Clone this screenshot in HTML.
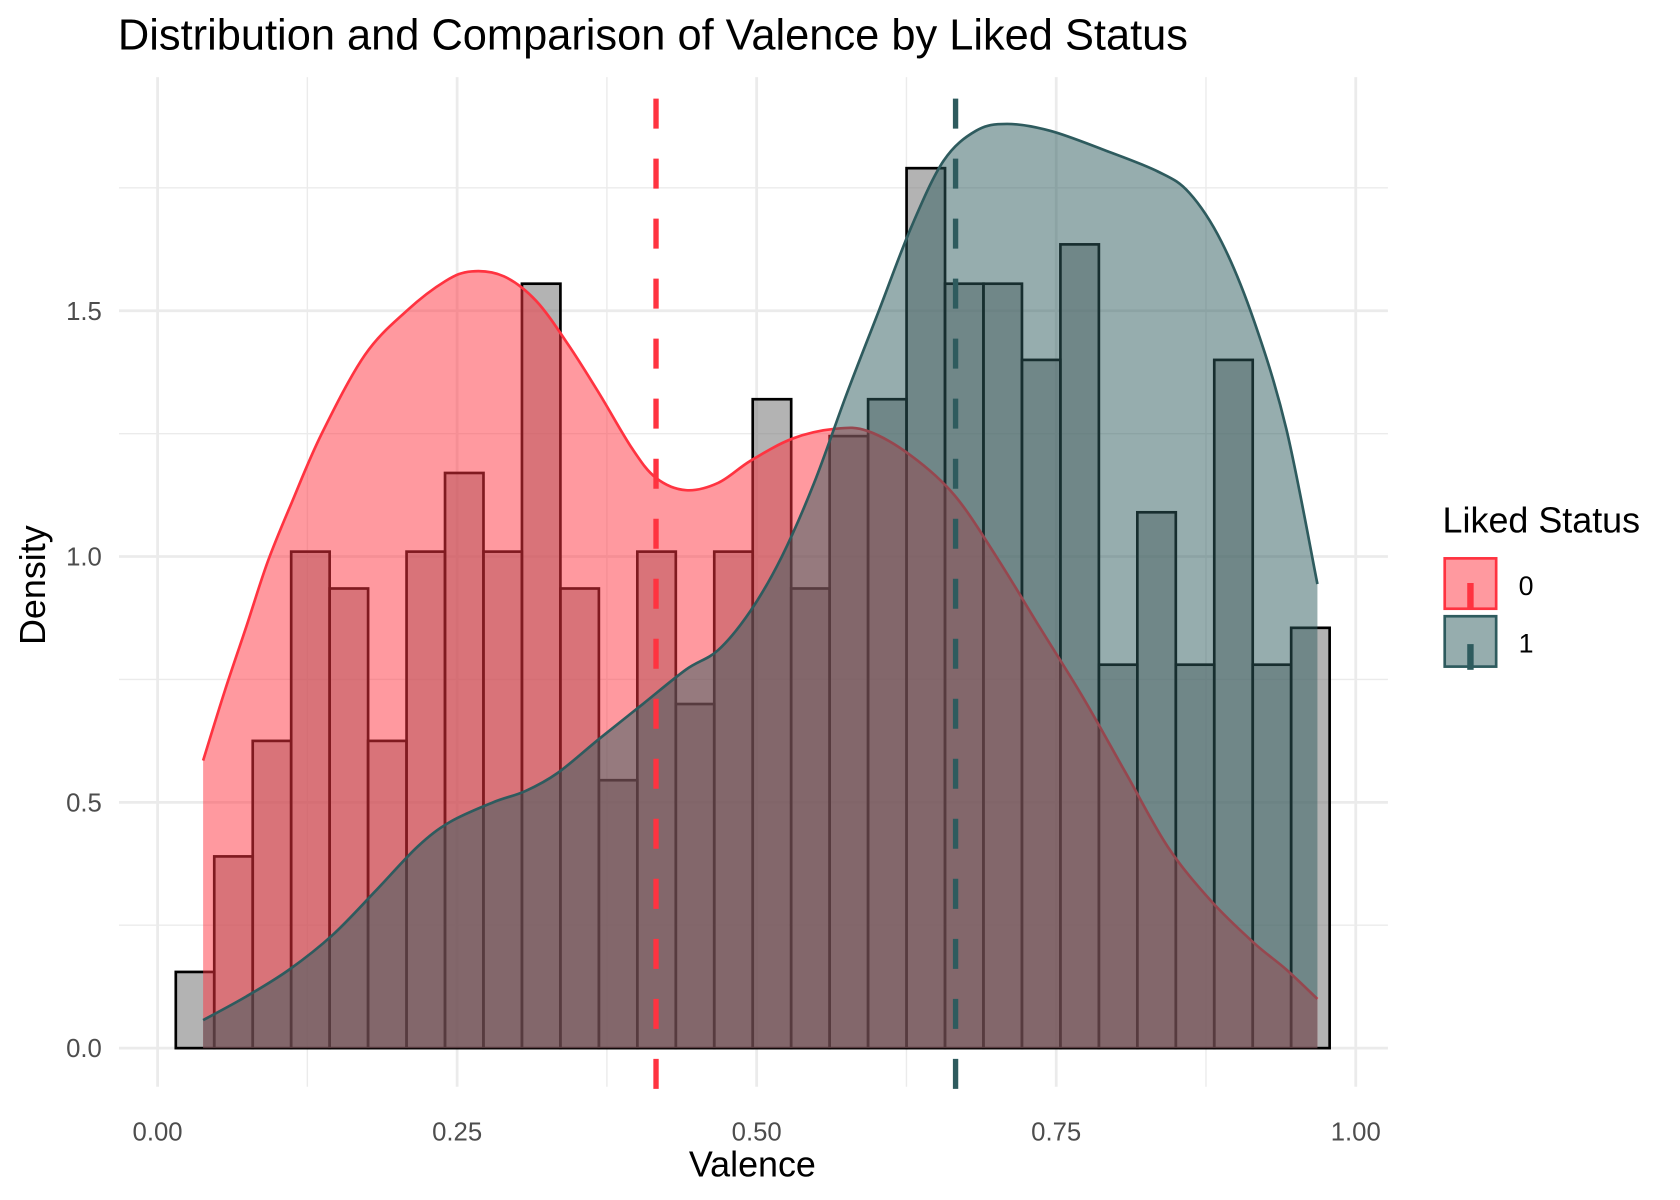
<!DOCTYPE html>
<html><head><meta charset="utf-8"><style>
html,body{margin:0;padding:0;background:#fff;}
svg{display:block;font-family:"Liberation Sans",Arial,sans-serif;}
</style></head><body>
<svg id="chart" width="1680" height="1200" viewBox="0 0 1567.5 1119.7" xmlns="http://www.w3.org/2000/svg">
<g id="grid"></g>
<g id="hist"></g>
<g id="dens"></g>
<g id="means"></g>
<g id="axes"></g>
<text x="110" y="46" font-size="40.5" fill="#000">Distribution and Comparison of Valence by Liked Status</text>
<text x="702" y="1098" font-size="33.5" text-anchor="middle">Valence</text>
<text transform="translate(42,546) rotate(-90)" font-size="33.5" text-anchor="middle">Density</text>
<g>
<text x="1346" y="497" font-size="33.5">Liked Status</text>
<g>
<rect x="1348" y="521" width="48" height="47" fill="#ff3340" fill-opacity="0.5" stroke="#ff3340" stroke-width="2.5"/>
<line x1="1372" y1="544" x2="1372" y2="568" stroke="#ff3340" stroke-width="6"/>
<text x="1417" y="555" font-size="25">0</text></g>
<g>
<rect x="1348" y="575" width="48" height="47" fill="#2e5b5e" fill-opacity="0.5" stroke="#2e5b5e" stroke-width="2.5"/>
<line x1="1372" y1="601" x2="1372" y2="625" stroke="#2e5b5e" stroke-width="6"/>
<text x="1417" y="609" font-size="25">1</text></g>
</g>
</svg>
<script>
const binStart = 0.0152;
const binWidth = 0.0321;
const histDensity = [0.155,0.39,0.625,1.01,0.935,0.625,1.01,1.17,1.01,1.555,0.935,0.545,1.01,0.70,1.01,1.32,0.935,1.245,1.32,1.79,1.555,1.555,1.40,1.635,0.78,1.09,0.78,1.40,0.78,0.855];
const redX = [0.038,0.056,0.074,0.092,0.112,0.137,0.173,0.208,0.240,0.262,0.289,0.316,0.343,0.369,0.396,0.416,0.441,0.468,0.495,0.530,0.566,0.593,0.629,0.665,0.700,0.736,0.772,0.808,0.843,0.879,0.915,0.942,0.968];
const redY = [0.585,0.726,0.857,0.99,1.11,1.25,1.41,1.50,1.56,1.58,1.57,1.52,1.43,1.33,1.22,1.16,1.135,1.15,1.195,1.24,1.26,1.255,1.205,1.125,1.0,0.857,0.715,0.56,0.41,0.30,0.214,0.16,0.10];
const tealX = [0.038,0.074,0.110,0.146,0.182,0.217,0.244,0.280,0.307,0.334,0.369,0.405,0.441,0.468,0.495,0.521,0.548,0.575,0.602,0.629,0.656,0.683,0.709,0.745,0.790,0.835,0.861,0.888,0.915,0.942,0.968];
const tealY = [0.057,0.105,0.16,0.23,0.32,0.41,0.46,0.50,0.523,0.56,0.63,0.70,0.77,0.81,0.89,1.0,1.15,1.33,1.50,1.67,1.805,1.866,1.88,1.866,1.827,1.783,1.74,1.64,1.48,1.26,0.944];
const means = [0.416, 0.666];
const xTicks = [0,0.25,0.5,0.75,1];
const xTickLabels = ["0.00","0.25","0.50","0.75","1.00"];
const yTicks = [0,0.5,1,1.5];
const yTickLabels = ["0.0","0.5","1.0","1.5"];

const NS="http://www.w3.org/2000/svg";
const xs = v => 147 + v*1118;
const ys = v => 978 - v*458.7;
function mk(tag, attrs, parent){const e=document.createElementNS(NS,tag);for(const k in attrs)e.setAttribute(k,attrs[k]);parent.appendChild(e);return e;}
const grid=document.getElementById('grid');
for(let i=0;i<4;i++){const v=0.125+i*0.25;
 const l=mk('line',{x1:xs(v),x2:xs(v),y1:72,y2:1014,stroke:'#ebebeb','stroke-width':1.3},grid);
 
 }
for(let i=0;i<4;i++){const v=0.25+i*0.5;
 const l=mk('line',{x1:111,x2:1295,y1:ys(v),y2:ys(v),stroke:'#ebebeb','stroke-width':1.3},grid);
 
 }
xTicks.forEach((v,i)=>{
 const l=mk('line',{x1:xs(v),x2:xs(v),y1:72,y2:1014,stroke:'#ebebeb','stroke-width':2.6},grid);
 
 
 const t=mk('text',{x:xs(v),y:1064,'font-size':24,fill:'#4d4d4d','text-anchor':'middle'},document.getElementById('axes'));
 t.textContent=xTickLabels[i];
 
 });
yTicks.forEach((v,i)=>{
 const l=mk('line',{x1:111,x2:1295,y1:ys(v),y2:ys(v),stroke:'#ebebeb','stroke-width':2.6},grid);
 
 
 const t=mk('text',{x:95,y:ys(v)+8.5,'font-size':24,fill:'#4d4d4d','text-anchor':'end'},document.getElementById('axes'));
 t.textContent=yTickLabels[i];
 
 });
const hist=document.getElementById('hist');
histDensity.forEach((d,i)=>{
 const x0=xs(binStart+i*binWidth), x1=xs(binStart+(i+1)*binWidth);
 const r=mk('rect',{x:x0,y:ys(d),width:x1-x0,height:ys(0)-ys(d),fill:'#808080','fill-opacity':0.6,stroke:'#000','stroke-width':2.5},hist);
 
 });
const dens=document.getElementById('dens');
function spline(P){
 let d='M'+P[0][0]+','+P[0][1];
 for(let i=0;i<P.length-1;i++){
  const p0=P[i-1]||P[i],p1=P[i],p2=P[i+1],p3=P[i+2]||P[i+1];
  const c1=[p1[0]+(p2[0]-p0[0])/6,p1[1]+(p2[1]-p0[1])/6];
  const c2=[p2[0]-(p3[0]-p1[0])/6,p2[1]-(p3[1]-p1[1])/6];
  d+=' C'+c1[0]+','+c1[1]+' '+c2[0]+','+c2[1]+' '+p2[0]+','+p2[1];
 }
 return d;}
function curve(X,Y,col,name){
 const P=X.map((x,i)=>[xs(x),ys(Y[i])]);
 const s=spline(P);
 const d='M'+xs(X[0])+','+ys(0)+' L'+s.slice(1)+' L'+xs(X[X.length-1])+','+ys(0)+'Z';
 const a=mk('path',{d:d,fill:col,'fill-opacity':0.5,stroke:'none'},dens);
 
 
 const p=mk('path',{d:s,fill:'none',stroke:col,'stroke-width':2.5,'stroke-linejoin':'round'},dens);
 
 }
curve(redX,redY,'#ff3340','density-liked-0');
curve(tealX,tealY,'#2e5b5e','density-liked-1');
const mg=document.getElementById('means');
['#ff3340','#2e5b5e'].forEach((c,i)=>{
 const l=mk('line',{x1:xs(means[i]),x2:xs(means[i]),y1:92,y2:1020,stroke:c,'stroke-width':5,'stroke-dasharray':'28 28'},mg);
 
 });
</script>
</body></html>
